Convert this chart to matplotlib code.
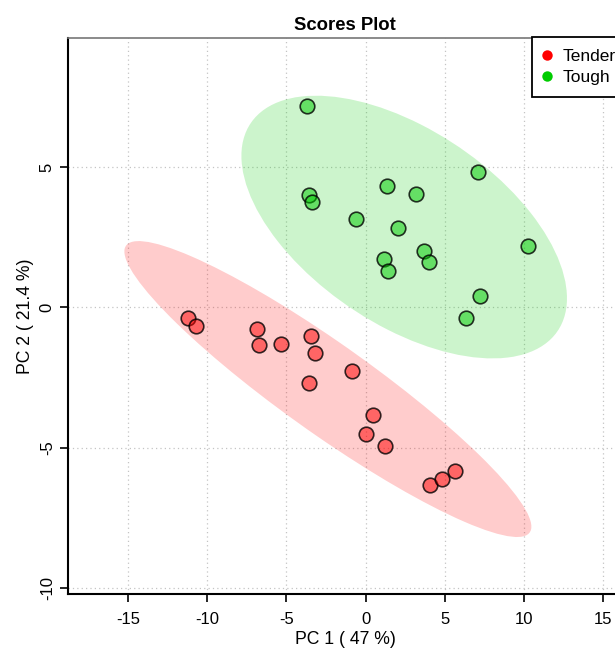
import numpy as np
import matplotlib
matplotlib.use("Agg")
import matplotlib.pyplot as plt
from matplotlib.patches import Ellipse
from matplotlib.lines import Line2D

plt.rcParams['font.family'] = ['Liberation Sans', 'DejaVu Sans']
plt.rcParams['axes.unicode_minus'] = False

groups = ["Tender", "Tough"]
tender_x = [-11.21, -10.73, -6.87, -6.75, -5.34, -3.42, -3.17, -3.57, -0.85, 0.47, 0.01, 1.23, 4.09, 4.83, 5.63]
tender_y = [-0.37, -0.68, -0.77, -1.33, -1.32, -1.02, -1.63, -2.68, -2.27, -3.85, -4.52, -4.94, -6.33, -6.12, -5.84]
tough_x = [-3.70, -3.55, -3.40, -0.60, 1.38, 3.17, 2.05, 1.17, 1.42, 3.71, 4.03, 7.09, 10.28, 7.23, 6.37]
tough_y = [7.16, 4.01, 3.75, 3.13, 4.31, 4.05, 2.83, 1.73, 1.28, 2.01, 1.61, 4.81, 2.17, 0.39, -0.38]
x_ticks = [-15, -10, -5, 0, 5, 10, 15]
y_ticks = [-10, -5, 0, 5]

fig = plt.figure(figsize=(6.15, 6.49), dpi=100)
ax = fig.add_axes([68/615, 1-594/649, (622-68)/615, (594-38)/649])

colors = ["#FF0000", "#00CC00"]
data = [(tender_x, tender_y), (tough_x, tough_y)]
chi2_95 = -2*np.log(0.05)

for (xs, ys), c in zip(data, colors):
    xs = np.array(xs); ys = np.array(ys)
    cov = np.cov(xs, ys)
    vals, vecs = np.linalg.eigh(cov)
    order = vals.argsort()[::-1]
    vals, vecs = vals[order], vecs[:, order]
    ang = np.degrees(np.arctan2(vecs[1, 0], vecs[0, 0]))
    w, h = 2*np.sqrt(chi2_95*vals)
    e = Ellipse((xs.mean(), ys.mean()), w, h, angle=ang, facecolor=c, alpha=0.2,
                edgecolor='none', zorder=1)
    ax.add_patch(e)

for (xs, ys), c in zip(data, colors):
    ax.scatter(xs, ys, s=110, facecolor=matplotlib.colors.to_rgba(c, 0.5),
               edgecolor=(0, 0, 0, 0.8), linewidth=1.2, zorder=3)

ax.set_xlim(-18.79, 16.2)
ax.set_ylim(-10.21, 9.59)
ax.set_xticks(x_ticks)
ax.set_yticks(y_ticks)
ax.grid(True, linestyle=(0, (1, 2.5)), color='#C4C4C4', linewidth=0.9, zorder=0)
ax.set_axisbelow(True)
ax.tick_params(axis='both', direction='out', length=5.5, width=1.2, labelsize=12)
ax.tick_params(axis='x', pad=7.5)
ax.tick_params(axis='y', pad=4)
for lab in ax.get_yticklabels():
    lab.set_rotation(90)
    lab.set_va('center')
ax.spines['left'].set_linewidth(1.5)
ax.spines['bottom'].set_linewidth(1.5)
ax.spines['top'].set_color('#777777')
ax.spines['top'].set_linewidth(1.2)
ax.spines['right'].set_visible(False)

ax.set_xlabel("PC 1 ( 47 %)", fontsize=12.7, labelpad=3)
ax.set_ylabel("PC 2 ( 21.4 %)", fontsize=12.7, labelpad=4)
ax.set_title("Scores Plot", fontsize=13.3, fontweight='bold', pad=6)

handles = [Line2D([], [], marker='o', linestyle='none', markersize=7.5,
                  markerfacecolor=c, markeredgecolor='none') for c in colors]
leg = ax.legend(handles, groups, loc='upper left', bbox_to_anchor=(532/615, 1-37/649),
                bbox_transform=fig.transFigure, prop={'size': 12.5}, frameon=True, fancybox=False,
                handletextpad=0.7, handlelength=0.35, borderpad=0.7, labelspacing=0.3,
                borderaxespad=0)
leg.get_frame().set_edgecolor('black')
leg.get_frame().set_linewidth(1.3)
leg.get_frame().set_alpha(1)

fig.savefig("out.png", dpi=100)
